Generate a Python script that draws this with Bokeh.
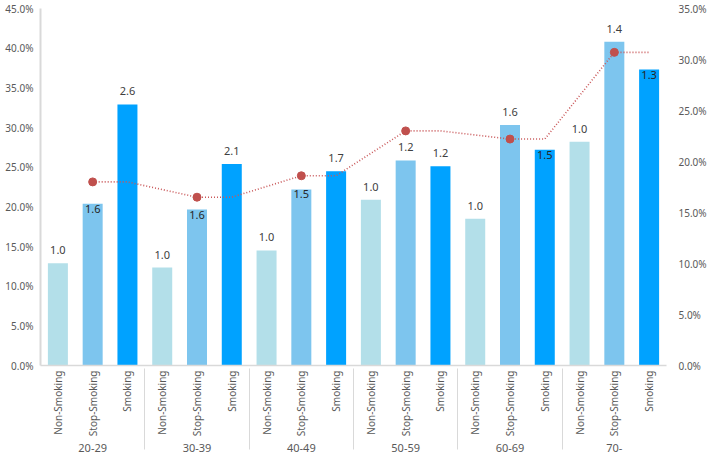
from bokeh.plotting import figure
from bokeh.models import (FactorRange, Range1d, LinearAxis, FixedTicker,
                          PrintfTickFormatter, ColumnDataSource)
from bokeh.core.properties import value
from bokeh.embed import file_html
from bokeh.resources import INLINE

groups = ["20-29", "30-39", "40-49", "50-59", "60-69", "70-"]
statuses = ["Non-Smoking", "Stop-Smoking", "Smoking"]
non_smoking = [12.9, 12.35, 14.5, 20.9, 18.5, 28.2]
stop_smoking = [20.4, 19.65, 22.2, 25.85, 30.3, 40.8]
smoking = [32.9, 25.4, 24.5, 25.1, 27.2, 37.3]
non_ratio = ["1.0", "1.0", "1.0", "1.0", "1.0", "1.0"]
stop_ratio = ["1.6", "1.6", "1.5", "1.2", "1.6", "1.4"]
smoking_ratio = ["2.6", "2.1", "1.7", "1.2", "1.5", "1.3"]
line_values = [18.0, 16.5, 18.6, 23.0, 22.2, 30.7]
left_ticks = [0, 5, 10, 15, 20, 25, 30, 35, 40, 45]
right_ticks = [0, 5, 10, 15, 20, 25, 30, 35]

# labels drawn inside the bar top (where the line crosses)
stop_inside = [True, True, True, False, False, False]
smoking_inside = [False, False, False, False, True, True]

FONT = "Noto Sans"
TXT = "#595959"
colors = {"Non-Smoking": "#B3DFE9", "Stop-Smoking": "#7DC5EE", "Smoking": "#00A2FF"}

factors = [(g, s) for g in groups for s in statuses]

p = figure(x_range=FactorRange(*factors, group_padding=0, range_padding=0),
           y_range=Range1d(0, 45), width=709, height=455,
           output_backend="svg", toolbar_location=None,
           min_border_left=40, min_border_right=42, min_border_top=8,
           min_border_bottom=89)
p.x_range.factor_padding = 0
p.extra_y_ranges = {"right": Range1d(0, 35)}
p.outline_line_color = None
p.grid.grid_line_color = None
p.background_fill_color = "white"

series = {"Non-Smoking": (non_smoking, non_ratio, [False] * 6),
          "Stop-Smoking": (stop_smoking, stop_ratio, stop_inside),
          "Smoking": (smoking, smoking_ratio, smoking_inside)}

for s, (vals, labs, inside) in series.items():
    xs = [(g, s) for g in groups]
    src = ColumnDataSource(dict(x=xs, top=vals))
    p.vbar(x="x", top="top", width=0.575, source=src, fill_color=colors[s],
           line_color=None)
    out_x = [x for x, f in zip(xs, inside) if not f]
    out_y = [v for v, f in zip(vals, inside) if not f]
    out_t = [t for t, f in zip(labs, inside) if not f]
    in_x = [x for x, f in zip(xs, inside) if f]
    in_y = [v for v, f in zip(vals, inside) if f]
    in_t = [t for t, f in zip(labs, inside) if f]
    p.text(x=out_x, y=out_y, text=out_t, text_align="center",
           text_baseline="bottom", y_offset=-9, text_font=value(FONT),
           text_font_size="11px", text_color="#404040")
    if in_x:
        p.text(x=in_x, y=in_y, text=in_t, text_align="center",
               text_baseline="top", y_offset=1, text_font=value(FONT),
               text_font_size="11px", text_color="#262626")

# ratio line on right axis
line_x = []
line_y = []
for g, v in zip(groups, line_values):
    line_x += [(g, "Stop-Smoking"), (g, "Smoking")]
    line_y += [v, v]
p.line(x=line_x, y=line_y, y_range_name="right", line_color="#C9585A",
       line_width=1.6, line_dash="1 2")
p.scatter(x=[(g, "Stop-Smoking") for g in groups], y=line_values,
          y_range_name="right", size=8, fill_color="#C0504D", line_color="#C0504D")

# axes
ly = p.yaxis[0]
ly.ticker = FixedTicker(ticks=left_ticks)
ly.formatter = PrintfTickFormatter(format="%.1f%%")
ly.axis_line_color = "#D9D9D9"
ly.axis_line_width = 2
ly.major_tick_line_color = None
ly.minor_tick_line_color = None
ly.major_tick_out = 0
ly.major_tick_in = 0
ly.minor_tick_out = 0
ly.major_label_standoff = 7
ly.major_label_text_font = FONT
ly.major_label_text_font_size = "10px"
ly.major_label_text_color = TXT

ry = LinearAxis(y_range_name="right", ticker=FixedTicker(ticks=right_ticks),
                formatter=PrintfTickFormatter(format="%.1f%%"))
ry.axis_line_color = None
ry.major_tick_line_color = None
ry.minor_tick_line_color = None
ry.major_tick_out = 0
ry.major_tick_in = 0
ry.minor_tick_out = 0
ry.major_label_standoff = 12
ry.major_label_text_font = FONT
ry.major_label_text_font_size = "10px"
ry.major_label_text_color = TXT
p.add_layout(ry, "right")

xa = p.xaxis[0]
xa.axis_line_color = "#D9D9D9"
xa.axis_line_width = 1.5
xa.major_tick_line_color = None
xa.minor_tick_line_color = None
xa.major_tick_out = 0
xa.major_tick_in = 0
xa.major_label_orientation = 1.5708
xa.major_label_standoff = 5
xa.major_label_text_font = FONT
xa.major_label_text_font_size = "10px"
xa.major_label_text_color = TXT
xa.group_text_font = FONT
xa.group_text_font_size = "11px"
xa.group_text_color = TXT
xa.group_text_font_style = "normal"
xa.separator_line_color = "#D9D9D9"
xa.separator_line_width = 1

open("out.html", "w").write(file_html(p, INLINE))
